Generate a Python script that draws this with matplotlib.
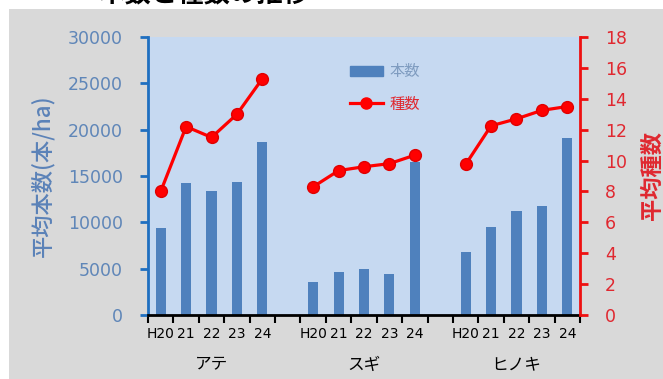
import matplotlib
matplotlib.use("Agg")
import matplotlib.pyplot as plt
from matplotlib.patches import Rectangle
from matplotlib.lines import Line2D
import numpy as np

plt.rcParams['font.family'] = ['Noto Sans CJK JP', 'DejaVu Sans']

groups = ["アテ", "スギ", "ヒノキ"]
years = ["H20", "21", "22", "23", "24"]
trees_ate = [9400, 14200, 13400, 14400, 18700]
trees_sugi = [3600, 4600, 4950, 4450, 16500]
trees_hinoki = [6850, 9550, 11250, 11800, 19100]
species_ate = [8.0, 12.2, 11.5, 13.0, 15.3]
species_sugi = [8.3, 9.35, 9.6, 9.8, 10.35]
species_hinoki = [9.75, 12.25, 12.7, 13.25, 13.5]

trees = [trees_ate, trees_sugi, trees_hinoki]
species = [species_ate, species_sugi, species_hinoki]

W, H = 663, 379
fig = plt.figure(figsize=(W / 100, H / 100), dpi=100)
fig.patch.set_facecolor('white')

# grey chart background (covers lower part of the clipped title)
fig.patches.append(Rectangle((9 / W, 0), 1, (H - 9) / H, transform=fig.transFigure,
                             facecolor='#d9d9d9', edgecolor='none', zorder=-1))
fig.text(204 / W, 1 + 5 / H, "本数と種数の推移", ha='center', va='center',
         fontsize=19, fontweight='bold', color='black', zorder=-2)

ax = fig.add_axes([148 / W, 1 - 315 / H, (580 - 148) / W, (315 - 37) / H])
ax.set_facecolor('#c6d9f1')
ax2 = ax.twinx()

blue_bar = '#4f81bd'
red = '#ff0000'

positions = []
labels = []
for g in range(3):
    start = g * 6
    xs = [start + i + 0.5 for i in range(5)]
    ax.bar(xs, trees[g], width=0.4, color=blue_bar, zorder=2)
    ax2.plot(xs, species[g], color=red, lw=2.3, marker='o', markersize=8.5,
             markerfacecolor=red, markeredgecolor='#e00000', zorder=3)
    positions += xs
    labels += years
    ax.text(start + 2.5, -0.18, groups[g], transform=ax.get_xaxis_transform(),
            ha='center', va='center', fontsize=12, color='black')

ax.set_xlim(0, 17)
ax.set_ylim(0, 30000)
ax2.set_ylim(0, 18)
ax.set_xticks(np.arange(0, 18))
ax.set_xticklabels([])
ax.set_xticks(positions, minor=True)
ax.set_xticklabels(labels, minor=True, fontsize=10, fontfamily='DejaVu Sans')
ax.tick_params(axis='x', which='major', direction='out', length=6, width=1.5, color='black')
ax.tick_params(axis='x', which='minor', length=0, pad=9)

ax.set_yticks(np.arange(0, 30001, 5000))
ax.set_yticklabels([str(v) for v in range(0, 30001, 5000)], fontfamily='DejaVu Sans')
ax.tick_params(axis='y', colors='#1f6fc0', labelcolor='#5f86b8', labelsize=12.5,
               length=6, width=2, direction='out', pad=12)
ax2.set_yticks(np.arange(0, 19, 2))
ax2.set_yticklabels([str(v) for v in range(0, 19, 2)], fontfamily='DejaVu Sans')
ax2.tick_params(axis='y', colors='#ee1111', labelcolor='#e02830', labelsize=12.5,
                length=6, width=2, direction='out', pad=12)

for a in (ax, ax2):
    a.spines['top'].set_visible(False)
ax.spines['right'].set_visible(False)
ax2.spines['left'].set_visible(False)
ax.spines['left'].set_color('#1f6fc0')
ax.spines['left'].set_linewidth(2)
ax2.spines['right'].set_color('#ee1111')
ax2.spines['right'].set_linewidth(2)
ax.spines['bottom'].set_color('black')
ax.spines['bottom'].set_linewidth(2)
ax2.spines['bottom'].set_visible(False)

ax.set_ylabel("平均本数(本/ha)", color='#5b82b8', fontsize=16, fontweight='medium', labelpad=10)
ax2.set_ylabel("平均種数", color='#e02830', fontsize=16, fontweight='bold', labelpad=10)

handles = [Rectangle((0, 0), 1, 1, color=blue_bar),
           Line2D([], [], color=red, lw=2.3, marker='o', markersize=8, markerfacecolor=red)]
leg = ax2.legend(handles, ["本数", "種数"], loc='upper left',
                 bbox_to_anchor=(0.435, 0.955), frameon=False, fontsize=11,
                 handlelength=2.2, handletextpad=0.4, labelspacing=1.0)
leg.get_texts()[0].set_color('#7f9cc0')
leg.get_texts()[1].set_color('#e02830')

fig.savefig("out.png", dpi=100)
